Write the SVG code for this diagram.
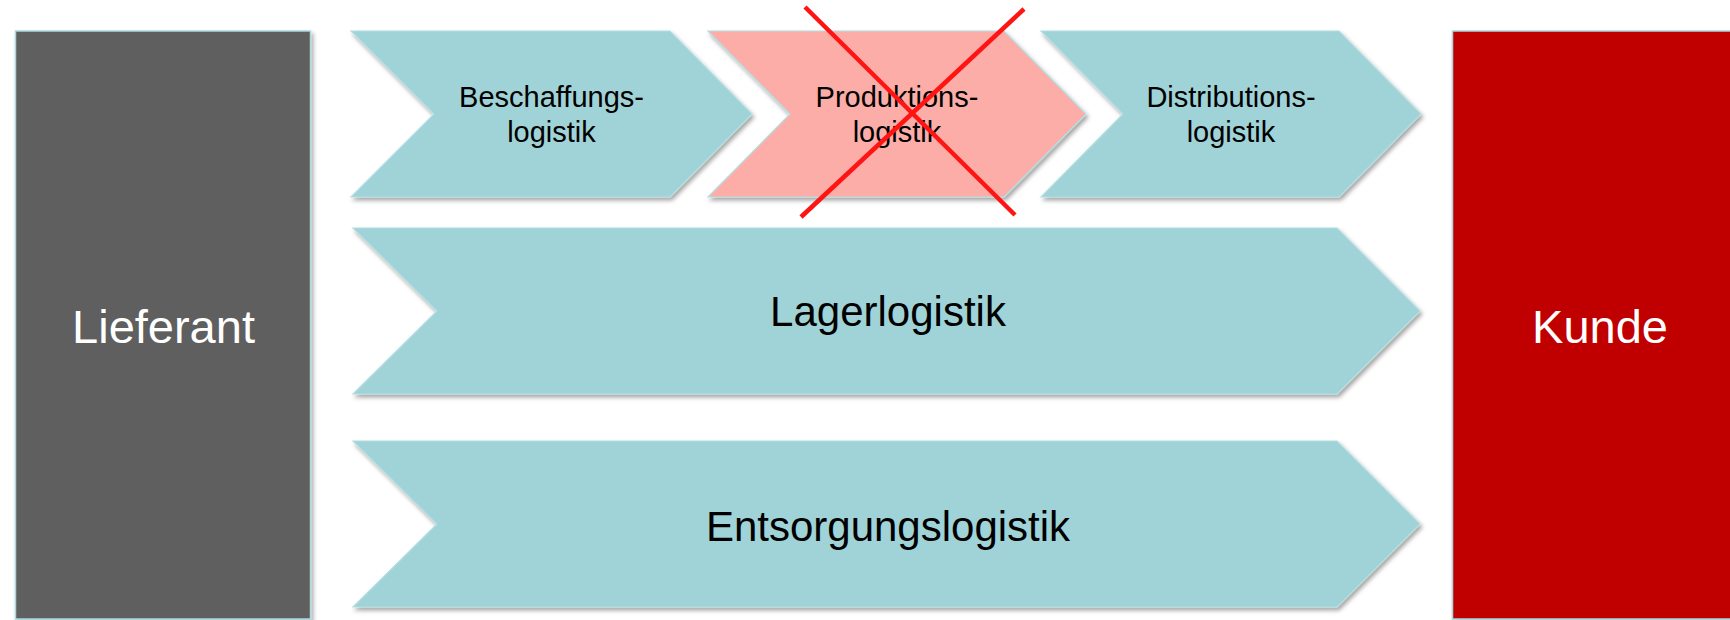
<svg xmlns="http://www.w3.org/2000/svg" width="1730" height="620" viewBox="0 0 1730 620">
  <defs>
    <filter id="sh" x="-5%" y="-10%" width="115%" height="130%">
      <feDropShadow dx="2" dy="3" stdDeviation="2" flood-color="#000" flood-opacity="0.35"/>
    </filter>
  </defs>
  <style>
    .box { stroke: #A9D9DD; stroke-width: 1.5; }
    .chev { fill: #9FD3D7; stroke: #B3DEE1; stroke-width: 1.2; filter: url(#sh); }
    .chev.off { fill: #FDADA7; }
    .t { font-family: "Liberation Sans", Arial, sans-serif; text-anchor: middle; fill: #000; }
    .small { font-size: 29px; }
    .big { font-size: 42px; }
    .side { font-size: 47px; fill: #fff; }
    .cross { stroke: #FF1414; stroke-width: 4.5; fill: none; }
  </style>
  <rect width="1730" height="620" fill="#fff"/>

  <g id="lieferant">
    <rect class="box" x="15.5" y="31" width="295" height="588" fill="#5F5F5F" filter="url(#sh)"/>
    <text class="t side" x="163.5" y="343">Lieferant</text>
  </g>

  <g id="kunde">
    <rect class="box" x="1452.5" y="31" width="290" height="588" fill="#C00000" filter="url(#sh)"/>
    <text class="t side" x="1600" y="343">Kunde</text>
  </g>

  <g id="beschaffung">
    <polygon class="chev" points="351,31 670,31 752,114 670,197 351,197 434,114"/>
    <text class="t small" x="551.5" y="107">Beschaffungs-</text>
    <text class="t small" x="551.5" y="142">logistik</text>
  </g>

  <g id="produktion">
    <polygon class="chev off" points="708,31 1004,31 1086,114 1004,197 708,197 790,114"/>
    <text class="t small" x="897" y="107">Produktions-</text>
    <text class="t small" x="897" y="142">logistik</text>
  </g>

  <g id="distribution">
    <polygon class="chev" points="1041,31 1339,31 1421,114 1339,197 1041,197 1123,114"/>
    <text class="t small" x="1231" y="107">Distributions-</text>
    <text class="t small" x="1231" y="142">logistik</text>
  </g>

  <g id="lager">
    <polygon class="chev" points="353,228 1337,228 1420,311 1337,394 353,394 437,311"/>
    <text class="t big" x="888" y="326">Lagerlogistik</text>
  </g>

  <g id="entsorgung">
    <polygon class="chev" points="353,441 1337,441 1420,524 1337,607 353,607 437,524"/>
    <text class="t big" x="888" y="541">Entsorgungslogistik</text>
  </g>

  <g id="connectors">
    <line class="cross" x1="805" y1="7" x2="1015" y2="215"/>
    <line class="cross" x1="1024" y1="9" x2="801" y2="217"/>
  </g>
</svg>
